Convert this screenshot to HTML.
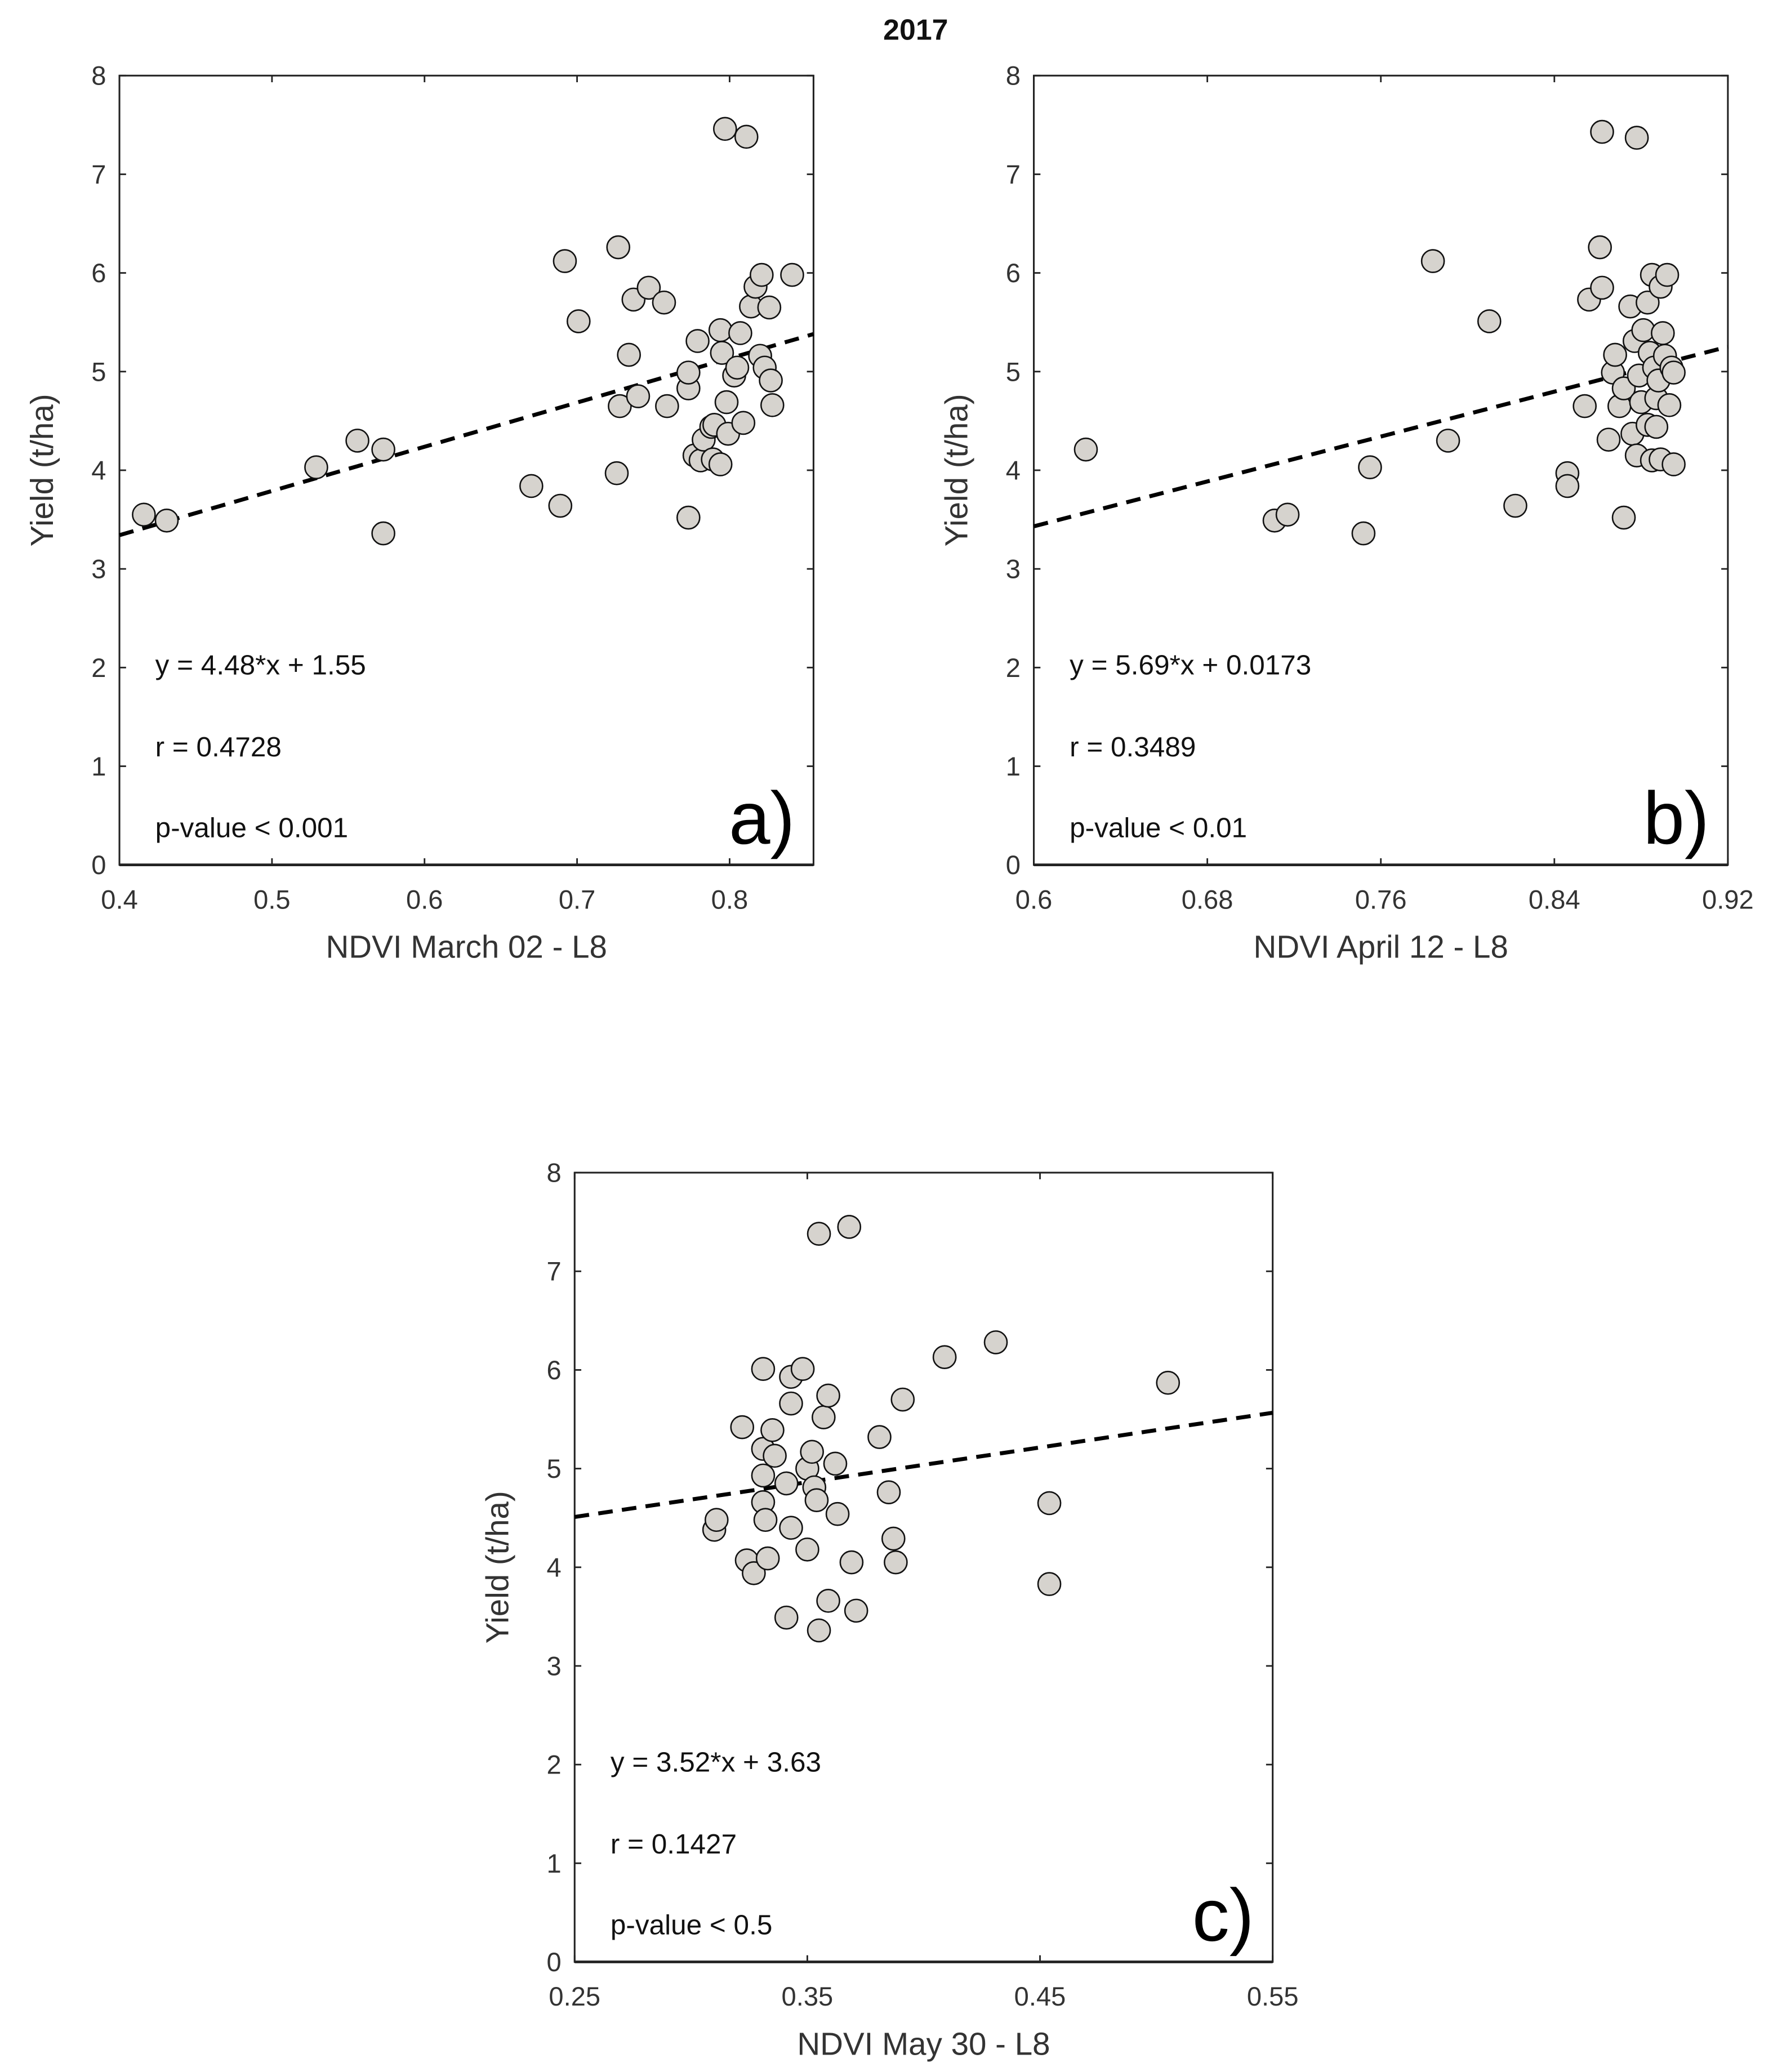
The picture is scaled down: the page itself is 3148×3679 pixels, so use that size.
<!DOCTYPE html>
<html><head><meta charset="utf-8"><style>
html,body{margin:0;padding:0;background:#fff;}
svg{display:block;}
text{font-family:"Liberation Sans",sans-serif;}
</style></head><body>
<svg id="fig" width="3148" height="3679" viewBox="0 0 1336 1562" preserveAspectRatio="none" xmlns="http://www.w3.org/2000/svg">
<text x="690" y="30" font-size="22" font-weight="bold" text-anchor="middle" fill="#111">2017</text>
</svg>
<script>
// Panel a data
const aX=[0.416,0.431,0.529,0.556,0.573,0.573,0.670,0.689,0.692,0.701,0.727,0.726,0.728,0.734,0.737,0.740,0.747,0.757,0.759,0.773,0.773,0.773,0.779,0.777,0.781,0.783,0.788,0.789,0.790,0.794,0.794,0.797,0.795,0.798,0.799,0.803,0.805,0.807,0.809,0.811,0.814,0.817,0.820,0.821,0.823,0.826,0.827,0.828,0.841];
const aY=[3.55,3.49,4.03,4.30,4.21,3.36,3.84,3.64,6.12,5.51,6.26,3.97,4.65,5.17,5.73,4.75,5.85,5.70,4.65,3.52,4.83,4.99,5.31,4.15,4.10,4.31,4.44,4.11,4.46,4.06,5.42,7.46,5.19,4.69,4.37,4.96,5.04,5.39,4.48,7.38,5.66,5.86,5.16,5.98,5.04,5.65,4.91,4.66,5.98];
const aTicks=["0.4","0.5","0.6","0.7","0.8"];
const aFit=[4.48,1.55];
// Panel b data
const bX=[0.624,0.711,0.717,0.752,0.755,0.784,0.791,0.810,0.822,0.846,0.846,0.854,0.856,0.861,0.862,0.862,0.865,0.867,0.868,0.870,0.872,0.872,0.875,0.876,0.877,0.878,0.878,0.879,0.880,0.881,0.883,0.883,0.884,0.885,0.885,0.886,0.887,0.887,0.888,0.889,0.889,0.890,0.891,0.892,0.893,0.894,0.895,0.895];
const bY=[4.21,3.49,3.55,3.36,4.03,6.12,4.30,5.51,3.64,3.97,3.84,4.65,5.73,6.26,7.43,5.85,4.31,4.99,5.17,4.65,3.52,4.83,5.66,4.37,5.31,7.37,4.15,4.96,4.69,5.42,4.46,5.70,5.19,5.98,4.10,5.04,4.73,4.44,4.91,5.86,4.11,5.39,5.16,5.98,4.66,5.04,4.06,4.99];
const bTicks=["0.6","0.68","0.76","0.84","0.92"];
const bFit=[5.69,0.0173];
// Panel c data
const cX=[0.310,0.311,0.322,0.324,0.327,0.331,0.331,0.331,0.331,0.332,0.333,0.335,0.336,0.341,0.343,0.343,0.343,0.341,0.348,0.350,0.350,0.352,0.353,0.354,0.355,0.355,0.357,0.359,0.359,0.362,0.363,0.368,0.369,0.371,0.381,0.385,0.387,0.388,0.391,0.409,0.431,0.454,0.454,0.505];
const cY=[4.38,4.48,5.42,4.07,3.94,6.01,5.20,4.93,4.66,4.48,4.09,5.39,5.13,3.49,5.66,5.93,4.40,4.85,6.01,5.00,4.18,5.17,4.81,4.68,3.36,7.38,5.52,5.74,3.66,5.05,4.54,7.45,4.05,3.56,5.32,4.76,4.29,4.05,5.70,6.13,6.28,4.65,3.83,5.87];
const cTicks=["0.25","0.35","0.45","0.55"];
const cFit=[3.52,3.63];
const yTicks=["0","1","2","3","4","5","6","7","8"];

const NS="http://www.w3.org/2000/svg";
const svg=document.getElementById('fig');
function mk(tag,attrs,parent,txt){const e=document.createElementNS(NS,tag);for(const k in attrs)e.setAttribute(k,attrs[k]);if(txt!==undefined)e.textContent=txt;(parent||svg).appendChild(e);return e;}

function panel(id,L,R,T,B,xmin,xmax,xt,X,Y,fit,xlabel,eq,rtxt,ptxt,letter){
  const g=mk('g',{});
  
  
  const sx=v=>L+(v-xmin)/(xmax-xmin)*(R-L);
  const sy=v=>B-(v/8)*(B-T);
  const box=mk('rect',{x:L,y:T,width:R-L,height:B-T,fill:'none',stroke:'#222','stroke-width':1.3},g);
  
  
  mk('line',{x1:L,y1:B,x2:R,y2:B,stroke:'#222','stroke-width':2},g);
  yTicks.forEach(t=>{const v=parseFloat(t),y=sy(v);
    mk('line',{x1:L,y1:y,x2:L+5,y2:y,stroke:'#222','stroke-width':1.2},g);
    mk('line',{x1:R,y1:y,x2:R-5,y2:y,stroke:'#222','stroke-width':1.2},g);
    const tl=mk('text',{x:L-10,y:y+7,'font-size':20,'text-anchor':'end',fill:'#333'},g,t);
    
    
  });
  xt.forEach(t=>{const v=parseFloat(t),x=sx(v);
    mk('line',{x1:x,y1:B,x2:x,y2:B-5,stroke:'#222','stroke-width':1.2},g);
    mk('line',{x1:x,y1:T,x2:x,y2:T+5,stroke:'#222','stroke-width':1.2},g);
    const tl=mk('text',{x:x,y:B+33,'font-size':20,'text-anchor':'middle',fill:'#333'},g,t);
    
    
  });
  const xl=mk('text',{x:(L+R)/2,y:B+70,'font-size':24,'text-anchor':'middle',fill:'#333'},g,xlabel);
  
  
  const yx=L-50,yy=(T+B)/2;
  const yl=mk('text',{x:yx,y:yy,'font-size':24,'text-anchor':'middle',fill:'#333',transform:`rotate(-90 ${yx} ${yy})`},g,'Yield (t/ha)');
  
  
  // trend line
  const ln=mk('line',{x1:sx(xmin),y1:sy(fit[0]*xmin+fit[1]),x2:sx(xmax),y2:sy(fit[0]*xmax+fit[1]),stroke:'#000','stroke-width':3,'stroke-dasharray':'11 7'},g);
  
  
  X.forEach((x,i)=>{
    const c=mk('circle',{cx:sx(x),cy:sy(Y[i]),r:8.5,fill:'#d6d3ce',stroke:'#111','stroke-width':1.1},g);
    
    
  });
  const e1=mk('text',{x:L+27,y:sy(1.93),'font-size':21,fill:'#111'},g,eq);
  
  
  const e2=mk('text',{x:L+27,y:sy(1.1),'font-size':21,fill:'#111'},g,rtxt);
  
  
  const e3=mk('text',{x:L+27,y:sy(0.28),'font-size':21,fill:'#111'},g,ptxt);
  
  
  const lt=mk('text',{x:R-14,y:B-16,'font-size':56,'text-anchor':'end',fill:'#000'},g,letter);
  
  
}
panel('a',90,613,57,652,0.4,0.855,aTicks,aX,aY,aFit,'NDVI March 02 - L8','y = 4.48*x + 1.55','r = 0.4728','p-value < 0.001','a)');
panel('b',779,1302,57,652,0.6,0.92,bTicks,bX,bY,bFit,'NDVI April 12 - L8','y = 5.69*x + 0.0173','r = 0.3489','p-value < 0.01','b)');
panel('c',433,959,884,1479,0.25,0.55,cTicks,cX,cY,cFit,'NDVI May 30 - L8','y = 3.52*x + 3.63','r = 0.1427','p-value < 0.5','c)');
</script>
</body></html>
